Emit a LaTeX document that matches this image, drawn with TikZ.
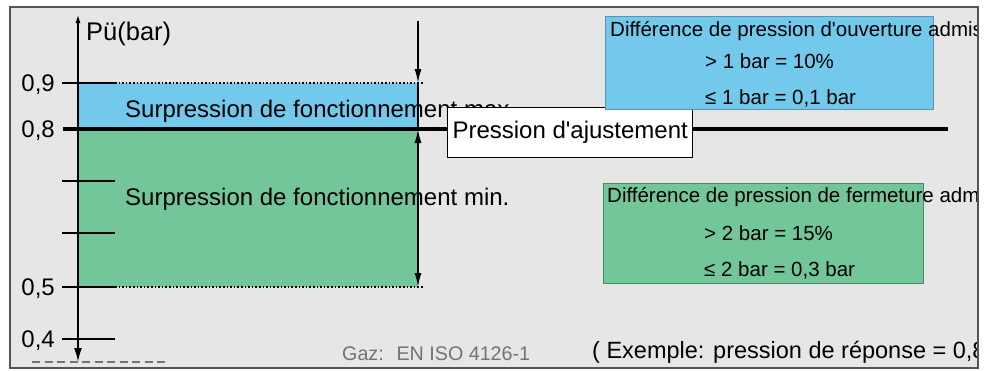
\documentclass[tikz,border=0pt]{standalone}
\usepackage{fontspec}
\setmainfont{Liberation Sans}[Ligatures=TeXOff]
\usetikzlibrary{positioning,arrows.meta}
\definecolor{panelbg}{RGB}{230,230,230}
\definecolor{panelrim}{RGB}{85,85,85}
\definecolor{maxblue}{RGB}{115,201,236}
\definecolor{maxrim}{RGB}{85,150,180}
\definecolor{mingreen}{RGB}{115,198,154}
\definecolor{minrim}{RGB}{70,140,100}
\definecolor{gazgray}{RGB}{115,115,115}
\newcommand{\bigfont}{\fontsize{24}{28}\selectfont}
\newcommand{\boxfont}{\fontsize{20.5}{24}\selectfont}
\newcommand{\gazfont}{\fontsize{19.7}{24}\selectfont}

\begin{document}
\begin{tikzpicture}[x=1pt,y=-1pt,>={Latex[length=14pt,width=7pt]},
  lbl/.style={anchor=base west,inner sep=0pt,font=\bigfont},
  boxlbl/.style={anchor=base west,inner sep=0pt,font=\boxfont},
  ticklbl/.style={anchor=base east,inner sep=0pt,font=\bigfont},
  tickline/.style={line width=2.6pt},
  dimline/.style={line width=1.6pt},
  infobox/.style={anchor=north west,inner sep=0pt,line width=1pt}]
\useasboundingbox (0,0) rectangle (1006,370);
\fill[panelbg] (10,7) rectangle (978,368);
\begin{scope}
\clip (10,7) rectangle (978,368);
% bands
\fill[maxblue] (78,83) rectangle (418,128);
\fill[mingreen] (78,128) rectangle (418,287);
\node[lbl] (max) at (125,117) {Surpression de fonctionnement max.};
\node[lbl] (min) at (125,205) {Surpression de fonctionnement min.};
% axis
\coordinate (ybot) at (78,362);
\coordinate (ytop) at (78,14);
\draw[line width=1.8pt,{Latex[length=14pt,width=8pt]}-{Latex[length=9pt,width=5pt]}] (ybot)--(ytop);
\node[lbl,font=\fontsize{25.5}{28}\selectfont] (unit) at (86,40) {Pü(bar)};
\foreach \y in {83,181,233,287,339}
  \draw[tickline] (62,\y)--(115,\y);
\foreach \y/\v in {83/{0,9},129/{0,8},287/{0,5},339/{0,4}}
  \node[ticklbl] (p\y) at (55,\y+8) {\v};
\draw[dotted,line width=1.6pt] (115,83)--(424,83);
\draw[dotted,line width=1.6pt] (115,287)--(424,287);
\draw[gazgray,line width=1.5pt,dash pattern=on 8pt off 4.5pt] (32,362)--(168,362);
% setting line and ranges
\draw[line width=4pt] (63,129)--(948,129);
\coordinate (dtop) at (418,21);
\coordinate (dmax) at (418,83);
\coordinate (dset) at (418,129);
\coordinate (dmin) at (418,287);
\draw[dimline,->] (dtop)--(dmax);
\draw[dimline] (dmax)--(dset);
\draw[dimline,<->] (dset)--(dmin);
\node[draw,fill=white,line width=1pt,inner xsep=5pt,inner ysep=0pt,minimum height=50pt,
  anchor=west,font=\bigfont] (adj) at (447,132) {Pression d'ajustement};
% tolerance boxes
\node[infobox,draw=maxrim,fill=maxblue,minimum width=328pt,minimum height=93pt] (ouv) at (605,16) {};
\node[boxlbl] (ouv1) at (610,36) {Différence de pression d'ouverture admis};
\node[boxlbl] (ouv2) at (705,68) {> 1 bar = 10\%};
\node[boxlbl] (ouv3) at (705,104) {≤ 1 bar = 0,1 bar};
\node[infobox,draw=minrim,fill=mingreen,minimum width=320pt,minimum height=100pt] (fer) at (603,183) {};
\node[boxlbl] (fer1) at (607,202) {Différence de pression de fermeture admi};
\node[boxlbl] (fer2) at (704,240) {> 2 bar = 15\%};
\node[boxlbl] (fer3) at (704,276) {≤ 2 bar = 0,3 bar};
% notes
\node[anchor=base west,inner sep=0pt,font=\gazfont,text=gazgray] (gaz) at (342,360) {Gaz:~ EN ISO 4126-1};
\node[lbl,font=\fontsize{23.5}{28}\selectfont] (ex) at (592,358) {( Exemple: pression de réponse = 0,8};
\end{scope}
\draw[panelrim,line width=1.5pt] (10,7) rectangle (978,368);
\end{tikzpicture}
\end{document}
